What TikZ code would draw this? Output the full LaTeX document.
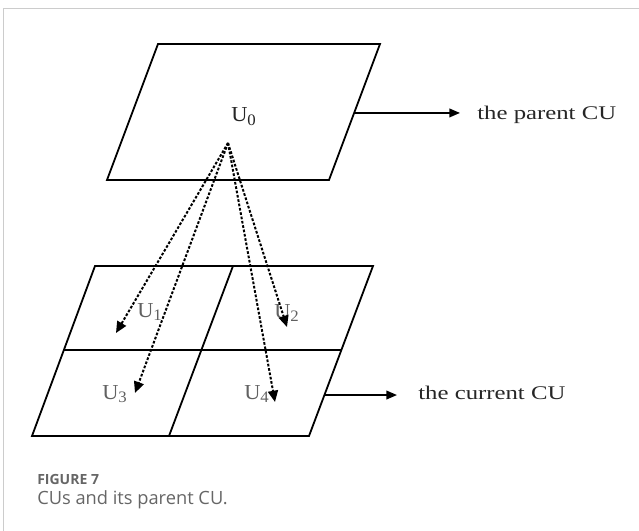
\documentclass[tikz,border=0pt]{standalone}
\usepackage{fontspec}
\setmainfont{Liberation Serif}
\newfontfamily\capfont{Open Sans}
\usetikzlibrary{arrows.meta,calc}

\newcommand{\subidx}[1]{\raisebox{-0.35ex}{\fontsize{12}{14}\selectfont #1}}

\tikzset{
  frame/.style={draw=black!20,line width=0.8pt},
  cell/.style={line width=1.35pt,line join=miter},
  ulbl/.style={inner sep=0pt,anchor=base west,font=\fontsize{16}{19}\selectfont,xscale=1.05,transform shape},
  note/.style={inner sep=0pt,anchor=base west,font=\fontsize{14.5}{17}\selectfont,xscale=1.28,transform shape},
  link/.style={line width=1.3pt,-{Triangle[length=8pt,width=6.5pt]}},
  ref/.style={line width=1.5pt,dash pattern=on 2pt off 1.3pt,-{Triangle[length=8.5pt,width=7.5pt]}},
  capline/.style={inner sep=0pt,anchor=base west,text=black!60,font=\capfont\fontsize{13.7}{16}\selectfont}
}

\begin{document}
\begin{tikzpicture}[x=0.75pt,y=-0.75pt]
\useasboundingbox (0,0) rectangle (639,531);
\draw[frame] (639,8.5) -- (3.5,8.5) -- (3.5,531);

% parent CU
\coordinate (p1) at (158,44);
\coordinate (p2) at (380,44);
\coordinate (p3) at (329,180);
\coordinate (p4) at (107,180);
\draw[cell] (p1) -- (p2) -- (p3) -- (p4) -- cycle;
\node[ulbl,text=black!85] (u0) at (231,122) {U\subidx{0}};

% current CU, split in four
\coordinate (c1) at (95,266);
\coordinate (c2) at (373,266);
\coordinate (c3) at (309,436);
\coordinate (c4) at (32,436);
\draw[cell] (c1) -- (c2) -- (c3) -- (c4) -- cycle;
\draw[cell] ($(c1)!.494!(c4)$) -- ($(c2)!.494!(c3)$);
\draw[cell] (233,266) -- (169,436);
\node[ulbl,text=black!62] (u1) at (137,317) {U\subidx{1}};
\node[ulbl,text=black!62] (u2) at (274,318) {U\subidx{2}};
\node[ulbl,text=black!62] (u3) at (102,399) {U\subidx{3}};
\node[ulbl,text=black!62] (u4) at (244,399) {U\subidx{4}};

% labels on the right
\node[note,text=black!85] (parent) at (477,120) {the parent CU};
\node[note,text=black!85] (current) at (418,399) {the current CU};
\coordinate (pr) at ($(p2)!.507!(p3)$);
\coordinate (cr) at ($(c2)!.759!(c3)$);
\draw[link,shorten >=12.75pt] (pr) -- (pr -| parent.west);
\draw[link,shorten >=15.75pt] (cr) -- (cr -| current.west);

% references from U0 to the sub CUs
\coordinate (a) at (228,143);
\coordinate (t1) at (116,333);
\coordinate (t2) at (287,327);
\coordinate (t3) at (135,393);
\coordinate (t4) at (275,402);
\foreach \t in {t1,t2,t3,t4} { \draw[ref] (a) -- (\t); }

% caption
\node[capline,font=\capfont\bfseries\fontsize{10.5}{13}\selectfont] (fig) at (37,484) {FIGURE 7};
\node[capline] (cap) at (37,504) {CUs and its parent CU.};
\end{tikzpicture}
\end{document}
